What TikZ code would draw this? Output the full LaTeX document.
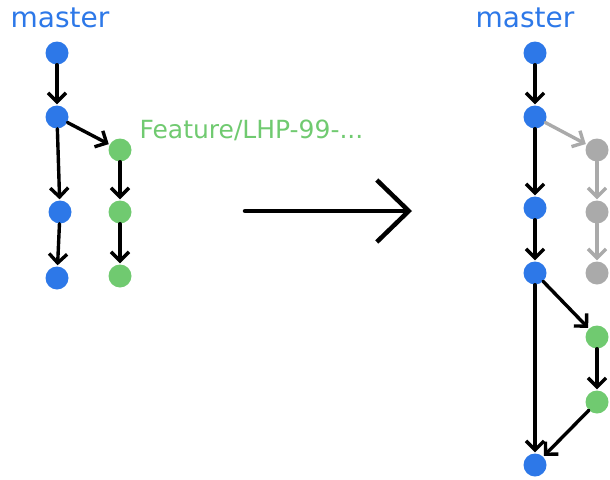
\documentclass[tikz,border=0pt]{standalone}
\usepackage{fontspec}
\setmainfont{DejaVu Sans}
\usetikzlibrary{arrows.meta}
\definecolor{cblue}{RGB}{45,120,232}
\definecolor{cgreen}{RGB}{112,202,112}
\definecolor{cgrey}{RGB}{170,170,170}
\begin{document}
\begin{tikzpicture}[x=1pt,y=-1pt,
  commit/.style={circle,minimum size=23pt,inner sep=0pt},
  bc/.style={commit,fill=cblue},
  gc/.style={commit,fill=cgreen},
  xc/.style={commit,fill=cgrey},
  edge/.style={line width=3.4pt,line cap=round,-{Straight Barb[length=9pt,width=18pt,line width=3.4pt]},shorten >=1pt},
  gedge/.style={edge,draw=cgrey},
  lbl/.style={font=\fontsize{28}{28}\selectfont}]
\useasboundingbox (0,0) rectangle (610,479);
% left
\node[lbl,text=cblue] (m1) at (60,18) {master};
\node[bc] (a1) at (57,53) {};
\node[bc] (a2) at (57,117) {};
\node[bc] (a3) at (60,212) {};
\node[bc] (a4) at (57,278) {};
\node[gc] (b1) at (120,150) {};
\node[gc] (b2) at (120,212) {};
\node[gc] (b3) at (120,276) {};
\node[lbl,text=cgreen,font=\fontsize{25}{25}\selectfont,anchor=west] (ft) at (136,130) {Feature/LHP-99-...};
\draw[edge] (a1) -- (a2);
\draw[edge] (a2) -- (a3);
\draw[edge] (a3) -- (a4);
\draw[edge] (a2) -- (b1);
\draw[edge] (b1) -- (b2);
\draw[edge] (b2) -- (b3);
% big arrow
\coordinate (s) at (245,211);
\coordinate (e) at (412,211);
\draw[line width=4.5pt,line cap=round,-{Straight Barb[length=32pt,width=62pt,line width=4.5pt]}] (s) -- (e);
% right
\node[lbl,text=cblue] (m2) at (525,18) {master};
\node[bc] (r1) at (535,53) {};
\node[bc] (r2) at (535,117) {};
\node[bc] (r3) at (535,208) {};
\node[bc] (r4) at (535,273) {};
\node[xc] (x1) at (597,150) {};
\node[xc] (x2) at (597,212) {};
\node[xc] (x3) at (597,273) {};
\node[gc] (g1) at (597,337) {};
\node[gc] (g2) at (597,402) {};
\node[bc] (r5) at (535,465) {};
\draw[edge] (r1) -- (r2);
\draw[edge] (r2) -- (r3);
\draw[edge] (r3) -- (r4);
\draw[gedge] (r2) -- (x1);
\draw[gedge] (x1) -- (x2);
\draw[gedge] (x2) -- (x3);
\draw[edge] (r4) -- (g1);
\draw[edge] (g1) -- (g2);
\draw[edge] (g2) -- (r5);
\draw[edge] (r4) -- (r5);
\end{tikzpicture}
\end{document}
